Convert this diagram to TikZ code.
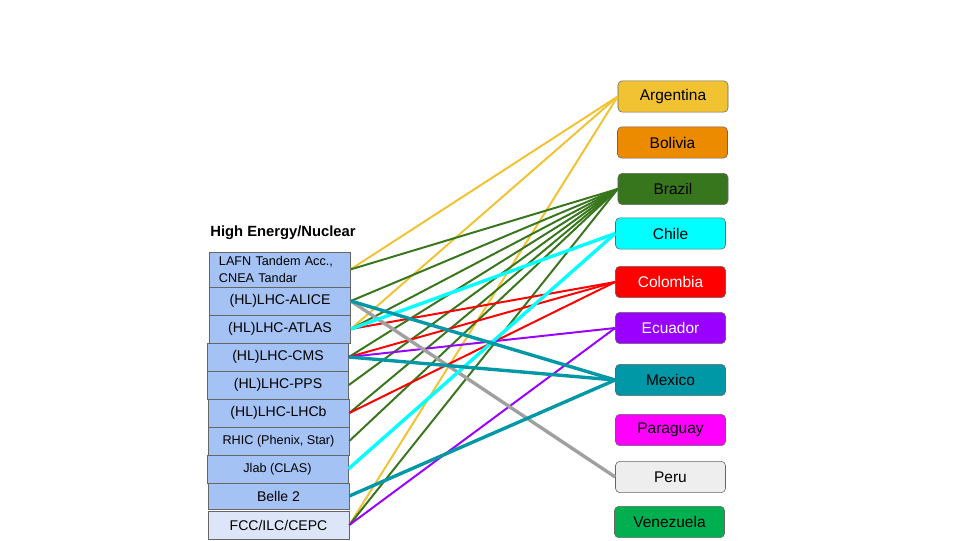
\documentclass[tikz,border=0pt]{standalone}
\usepackage{fontspec}
\setmainfont{Liberation Sans}

\definecolor{boxgray}{HTML}{666666}
\definecolor{expblue}{HTML}{A4C2F4}
\definecolor{expfaint}{HTML}{DCE6F8}
\definecolor{argyellow}{HTML}{F1C232}
\definecolor{bolorange}{HTML}{EC8A00}
\definecolor{bragreen}{HTML}{38761D}
\definecolor{chicyan}{HTML}{00FFFF}
\definecolor{colred}{HTML}{FF0000}
\definecolor{ecupurple}{HTML}{9900FF}
\definecolor{mexteal}{HTML}{0097A7}
\definecolor{parmagenta}{HTML}{FF00FF}
\definecolor{perugray}{HTML}{EEEEEE}
\definecolor{perulink}{HTML}{A0A0A0}
\definecolor{vengreen}{HTML}{00B050}

\begin{document}
\begin{tikzpicture}[x=0.025cm, y=-0.025cm,
		expbox/.style={draw=boxgray, fill=expblue, inner sep=0pt,
			minimum width=3.525cm, minimum height=0.7cm,
			font=\fontsize{10}{12}\selectfont},
		ctrybox/.style={draw=boxgray, rounded corners=3pt, inner sep=0pt,
			minimum width=2.75cm, minimum height=0.78cm,
			font=\fontsize{11}{13}\selectfont},
		thin link/.style={line width=1.4pt},
		thick link/.style={line width=2.4pt}]
			
			\useasboundingbox (0,0) rectangle (960,540);
			
			\node[font=\fontsize{10.5}{12}\selectfont\bfseries] (hdr) at (283,233) {High Energy/Nuclear};
			
			\node[expbox, minimum height=0.875cm, text width=3.025cm, inner xsep=0.25cm, align=left,
			font=\fontsize{9}{12}\selectfont] (lafn) at (279.5,269.5) {LAFN Tandem Acc.,\\CNEA Tandar};
			\node[expbox] (alice) at (280,301) {(HL)LHC-ALICE};
			\node[expbox] (atlas) at (280,329) {(HL)LHC-ATLAS};
			\node[expbox] (cms)   at (278,357) {(HL)LHC-CMS};
			\node[expbox] (pps)   at (278,385) {(HL)LHC-PPS};
			\node[expbox] (lhcb)  at (278.5,413) {(HL)LHC-LHCb};
			\node[expbox, font=\fontsize{9}{11}\selectfont] (rhic) at (278.5,441) {RHIC (Phenix, Star)};
			\node[expbox, font=\fontsize{9}{11}\selectfont] (jlab) at (277.5,469) {Jlab (CLAS)};
			\node[expbox, minimum height=0.65cm] (belle) at (278.5,496) {Belle 2};
			\node[expbox, fill=expfaint] (fcc) at (278.5,525) {FCC/ILC/CEPC};
			
			\node[ctrybox, fill=argyellow] (arg) at (673,96.5) {Argentina};
			\node[ctrybox, fill=bolorange] (bol) at (672.5,142.5) {Bolivia};
			\node[ctrybox, fill=bragreen]  (bra) at (673,189) {Brazil};
			\node[ctrybox, fill=chicyan]   (chi) at (670.5,233.5) {Chile};
			\node[ctrybox, fill=colred, text=white] (col) at (670.5,282) {Colombia};
			\node[ctrybox, fill=ecupurple, text=white] (ecu) at (670.5,328) {Ecuador};
			\node[ctrybox, fill=mexteal]   (mex) at (670.5,380) {Mexico};
			\node[ctrybox, fill=parmagenta] (par) at (670.5,430) {Paraguay};
			\node[ctrybox, fill=perugray]  (per) at (670.5,477) {Peru};
			\node[ctrybox, fill=vengreen]  (ven) at (669.5,522) {Venezuela};
			
			\draw[thin link, argyellow] (lafn.east) -- (arg.west);
			\draw[thin link, argyellow] (atlas.east) -- (arg.west);
			\draw[thin link, argyellow] (fcc.east) -- (arg.west);
			
			\draw[thin link, bragreen] (lafn.east) -- (bra.west);
			\draw[thin link, bragreen] (alice.east) -- (bra.west);
			\draw[thin link, bragreen] (atlas.east) -- (bra.west);
			\draw[thin link, bragreen] (cms.east) -- (bra.west);
			\draw[thin link, bragreen] (pps.east) -- (bra.west);
			\draw[thin link, bragreen] (lhcb.east) -- (bra.west);
			\draw[thin link, bragreen] (rhic.east) -- (bra.west);
			\draw[thin link, bragreen] (fcc.east) -- (bra.west);
			
			\draw[thin link, colred] (atlas.east) -- (col.west);
			\draw[thin link, colred] (cms.east) -- (col.west);
			\draw[thin link, colred] (lhcb.east) -- (col.west);
			
			\draw[thin link, ecupurple] (cms.east) -- (ecu.west);
			\draw[thin link, ecupurple] (fcc.east) -- (ecu.west);
			
			\draw[thick link, perulink] (alice.east) -- (per.west);
			
			\draw[thick link, chicyan] (atlas.east) -- (chi.west);
			\draw[thick link, chicyan] (jlab.east) -- (chi.west);
			
			\draw[thick link, mexteal] (alice.east) -- (mex.west);
			\draw[thick link, mexteal] (cms.east) -- (mex.west);
			\draw[thick link, mexteal] (belle.east) -- (mex.west);
			
\end{tikzpicture}
\end{document}
